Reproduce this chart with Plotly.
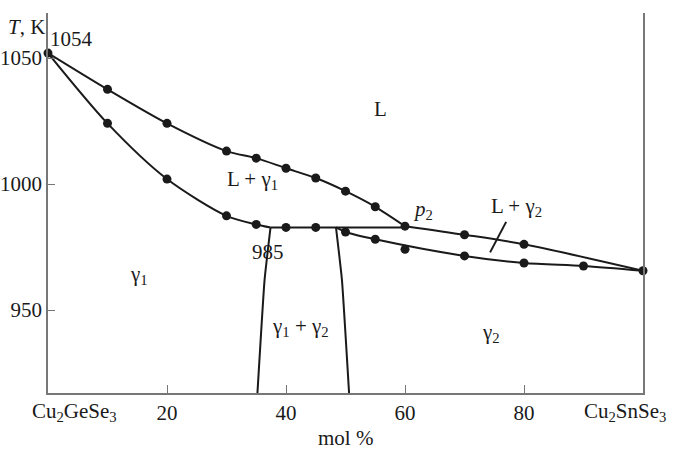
import plotly.graph_objects as go

FONT = "Liberation Serif"

# experimental points (mol % Cu2SnSe3, T in K)
liq1_x = [0, 10, 20, 30, 35, 40, 45, 50, 55, 60]
liq1_y = [1052, 1037.6, 1024.1, 1013.1, 1010.3, 1006.3, 1002.4, 997.2, 991.0, 983.3]

sol1_x = [10, 20, 30, 35, 40, 45]
sol1_y = [1024.1, 1002.0, 987.4, 984.0, 982.8, 982.8]

liq2_x = [70, 80, 100]
liq2_y = [979.9, 976.1, 965.6]

sol2_x = [50, 55, 60, 70, 80, 90]
sol2_y = [981.0, 978.1, 974.1, 971.5, 968.7, 967.5]

# drawn boundaries
liq1_curve_x = liq1_x
liq1_curve_y = liq1_y
sol1_curve_x = [0, 10, 20, 30, 35, 37.4]
sol1_curve_y = [1052, 1024.1, 1002.0, 987.4, 984.0, 982.8]
peritectic_x = [37.4, 60]
peritectic_y = [982.8, 982.8]
liq2_curve_x = [60, 70, 80, 100]
liq2_curve_y = [983.3, 979.9, 976.1, 965.6]
sol2_curve_x = [48.4, 50, 55, 70, 80, 90, 100]
sol2_curve_y = [982.8, 981.0, 978.1, 971.5, 968.7, 967.5, 965.6]
left_solvus_x = [37.4, 36.4, 35.2]
left_solvus_y = [982.8, 962.0, 917.1]
right_solvus_x = [48.4, 49.4, 50.6]
right_solvus_y = [982.8, 962.0, 917.1]
tie_x = [74.3, 77.0]
tie_y = [972.9, 985.0]

x_ticks = [0, 20, 40, 60, 80, 100]
x_labels = ["", "20", "40", "60", "80", ""]
end_labels = [(4.5, "Cu<sub>2</sub>GeSe<sub>3</sub>"), (97.0, "Cu<sub>2</sub>SnSe<sub>3</sub>")]
y_ticks = [950, 1000, 1050]

labels = [
    (55.8, 1030, "L"),
    (34.3, 1001.6, "L + γ<sub>1</sub>"),
    (63.0, 989.7, "<i>p</i><sub>2</sub>"),
    (78.8, 990.9, "L + γ<sub>2</sub>"),
    (37.0, 973.0, "985"),
    (15.3, 963.9, "γ<sub>1</sub>"),
    (42.4, 943.3, "γ<sub>1</sub> + γ<sub>2</sub>"),
    (74.5, 940.9, "γ<sub>2</sub>"),
    (4.0, 1057.5, "1054"),
    (104.0, 965.6, "965"),
]

fig = go.Figure()

line_style = dict(color="#1a1a1a", width=2)
curves = [
    (liq1_curve_x, liq1_curve_y, 0.8),
    (sol1_curve_x, sol1_curve_y, 0.8),
    (peritectic_x, peritectic_y, 0),
    (liq2_curve_x, liq2_curve_y, 0.8),
    (sol2_curve_x, sol2_curve_y, 0.8),
    (left_solvus_x, left_solvus_y, 0.4),
    (right_solvus_x, right_solvus_y, 0.4),
    (tie_x, tie_y, 0),
]
for cx, cy, sm in curves:
    fig.add_trace(go.Scatter(x=cx, y=cy, mode="lines",
                             line=dict(shape="spline" if sm else "linear", smoothing=sm or None, **line_style),
                             showlegend=False, hoverinfo="skip"))

pts_x = liq1_x + sol1_x + liq2_x + sol2_x
pts_y = liq1_y + sol1_y + liq2_y + sol2_y
fig.add_trace(go.Scatter(x=pts_x, y=pts_y, mode="markers", marker=dict(size=9, color="#1a1a1a"),
                         showlegend=False, cliponaxis=False))

txt_font = dict(family=FONT, size=21, color="#1a1a1a")
for lx, ly, txt in labels:
    fig.add_annotation(x=lx, y=ly, text=txt, showarrow=False, font=txt_font)

for lx, txt in end_labels:
    fig.add_annotation(x=lx, y=0, yref="paper", yanchor="top", yshift=-4, text=txt,
                       showarrow=False, font=txt_font)

fig.add_annotation(x=0, y=1, xref="paper", yref="paper", xanchor="right", xshift=-1, yshift=0,
                   text="<i>T</i>, K", showarrow=False, font=txt_font)
fig.add_annotation(x=0.5, y=0, xref="paper", yref="paper", yanchor="top", yshift=-31,
                   text="mol %", showarrow=False, font=txt_font)

fig.update_layout(
    width=685,
    height=453,
    margin=dict(l=48, r=42, t=13, b=60),
    plot_bgcolor="white",
    paper_bgcolor="white",
    font=dict(family=FONT, size=21, color="#1a1a1a"),
    xaxis=dict(
        range=[0, 100],
        tickvals=x_ticks,
        ticktext=x_labels,
        ticks="inside",
        ticklen=8,
        tickcolor="#777",
        showline=True,
        linecolor="#777",
        linewidth=1.5,
        showgrid=False,
        zeroline=False,
        automargin=False,
    ),
    yaxis=dict(
        range=[917.1, 1067.9],
        tickvals=y_ticks,
        ticks="inside",
        ticklen=7,
        tickcolor="#777",
        showline=True,
        linecolor="#777",
        linewidth=1.5,
        showgrid=False,
        zeroline=False,
        automargin=False,
    ),
    yaxis2=dict(
        range=[917.1, 1067.9],
        overlaying="y",
        side="right",
        showline=True,
        linecolor="#777",
        linewidth=1.5,
        showticklabels=False,
        showgrid=False,
        zeroline=False,
        ticks="",
        automargin=False,
    ),
)
fig.add_trace(go.Scatter(x=[None], y=[None], yaxis="y2", showlegend=False))

# drop the default page margin so the figure sits at the window's corner
fig.write_html("out.html", config={"displayModeBar": False},
               post_script="document.body.style.margin='0px';")
